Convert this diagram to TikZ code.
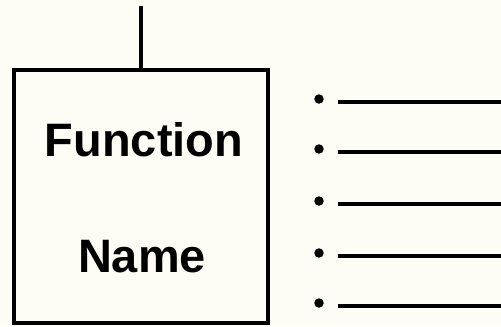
\documentclass[tikz,border=0pt]{standalone}
\usepackage{fontspec}
\setmainfont{Liberation Sans}
\definecolor{paper}{RGB}{253,253,246}
\begin{document}
\begin{tikzpicture}[
    x=0.02cm, y=-0.02cm,
    fnbox/.style={draw=black, line width=2.3pt, fill=paper, minimum width=5.08cm, minimum height=5.06cm, inner sep=0pt},
    fnlabel/.style={font=\fontsize{26.7}{30}\selectfont\bfseries, anchor=base, inner sep=0pt},
    dot/.style={circle, fill=black, minimum size=0.19cm, inner sep=0pt},
    rule/.style={line width=1.8pt}
]
    % page
    \fill[paper] (0,0) rectangle (501,326);
    \useasboundingbox (0,0) rectangle (501,326);

    % function box with its stem
    \node[fnbox] (fn) at (141,196.5) {};
    \coordinate (stem) at (141,6);
    \draw[line width=2pt] (stem) -- (fn.north);
    \node[fnlabel] (fname1) at (144,156) {Function};
    \node[fnlabel] (fname2) at (142,272) {Name};

    % argument list
    \foreach \i/\y in {1/99, 2/149, 3/201, 4/253, 5/303} {
        \node[dot] (b\i) at (319,\y) {};
        \coordinate (ls\i) at (338,\y+3);
        \coordinate (le\i) at (501,\y+3);
        \draw[rule] (ls\i) -- (le\i);
    }
\end{tikzpicture}
\end{document}
